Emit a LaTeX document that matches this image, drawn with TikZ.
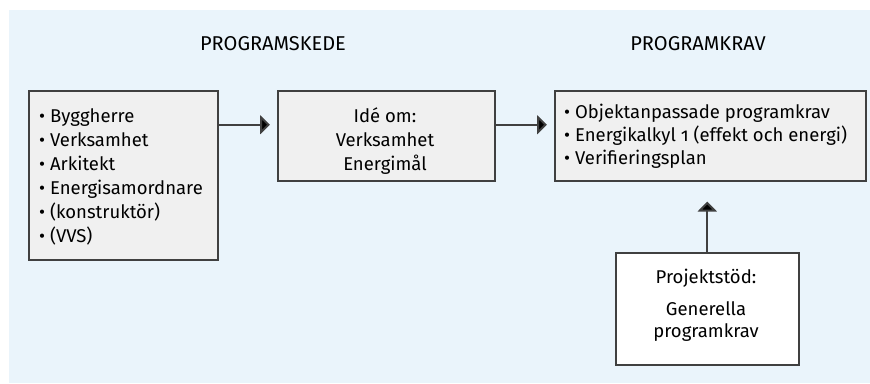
\documentclass[tikz,border=0pt]{standalone}
\usepackage{fontspec}
\setmainfont[Numbers=OldStyle]{Fira Sans}
\usetikzlibrary{arrows.meta}
\definecolor{bgblue}{HTML}{EAF4FB}
\definecolor{boxgray}{HTML}{F0F0F0}
\definecolor{linegray}{HTML}{404040}
\begin{document}
\begin{tikzpicture}[x=1pt,y=-1pt,
  box/.style={draw=linegray, line width=1.5pt, fill=boxgray, inner sep=0pt, anchor=north west},
  txt/.style={inner sep=0pt, font=\fontsize{18.5}{24}\selectfont},
  title/.style={inner sep=0pt, anchor=base, font=\fontsize{20}{24}\selectfont},
  arr/.style={draw=linegray, line width=2pt, -{Triangle[length=10pt,width=19pt,fill=black]}}]
\useasboundingbox (0,0) rectangle (870,383);
\fill[bgblue] (9,10) rectangle (870,383);
\node[title] (h1) at (273,50) {PROGRAMSKEDE};
\node[title] (h2) at (698,50) {PROGRAMKRAV};
\node[box, minimum width=189pt, minimum height=169pt] (b1) at (28,90) {};
\node[box, minimum width=217pt, minimum height=90pt] (b2) at (277,90) {};
\node[box, minimum width=311pt, minimum height=90pt] (b3) at (554,90) {};
\node[box, fill=white, minimum width=183pt, minimum height=112pt] (b4) at (615,252) {};
\node[txt, anchor=base west, align=left] (t1) at (39,242) {• Byggherre\\• Verksamhet\\• Arkitekt\\• Energisamordnare\\• (konstruktör)\\• (VVS)};
\node[txt, anchor=base, align=center] (t2) at (385,170) {Idé om:\\Verksamhet\\Energimål};
\node[txt, anchor=base west, align=left, font=\fontsize{18.5}{23}\selectfont] (t3) at (564,164) {• Objektanpassade programkrav\\• Energikalkyl 1 (effekt och energi)\\• Verifieringsplan};
\node[txt, anchor=base] (t4) at (706,283) {Projektstöd:};
\node[txt, anchor=base, align=center, font=\fontsize{18.5}{22}\selectfont] (t5) at (706,337) {Generella\\programkrav};
\draw[arr] ([yshift=11pt]b2.west -| b1.east) -- ([xshift=-7pt,yshift=11pt]b2.west);
\draw[arr] ([yshift=11pt]b3.west -| b2.east) -- ([xshift=-7pt,yshift=11pt]b3.west);
\draw[arr] (b4.north) -- ([yshift=-20pt]b4.north |- b3.south);
\end{tikzpicture}
\end{document}
